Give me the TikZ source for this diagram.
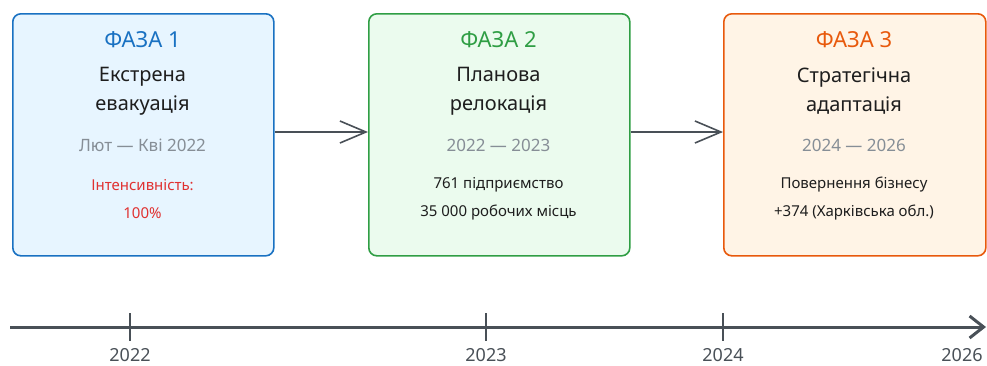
\documentclass[tikz,border=0pt]{standalone}
\usepackage{fontspec}
\setmainfont{Noto Sans}
\usetikzlibrary{arrows.meta}
\definecolor{cblue}{HTML}{1971C2}
\definecolor{cbluebg}{HTML}{E7F5FF}
\definecolor{cgreen}{HTML}{2F9E44}
\definecolor{cgreenbg}{HTML}{EBFBEE}
\definecolor{corange}{HTML}{E8590C}
\definecolor{corangebg}{HTML}{FFF4E6}
\definecolor{cred}{HTML}{E03131}
\definecolor{cgrey}{HTML}{868E96}
\definecolor{cdark}{HTML}{495057}
\definecolor{cink}{HTML}{1E1E1E}
\begin{document}
\begin{tikzpicture}[x=1pt,y=-1pt,
  phasebox/.style={draw, line width=1.6pt, rounded corners=8pt, minimum height=242pt, inner sep=0pt, anchor=north west},
  phasetitle/.style={font=\fontsize{22}{26}\selectfont},
  heading/.style={font=\fontsize{20}{29}\selectfont, text=cink, align=center},
  dates/.style={font=\fontsize{17}{20}\selectfont, text=cgrey},
  detail/.style={font=\fontsize{15}{28}\selectfont, align=center},
  conn/.style={draw=cdark, line width=1.6pt, -{Straight Barb[length=26pt,width=22pt,line width=1.6pt]}},
  timeline/.style={draw=cdark, line width=3pt, -{Straight Barb[length=14pt,width=22pt,line width=3pt]}},
  tickmark/.style={draw=cdark, line width=1.4pt},
  yearlabel/.style={font=\fontsize{18}{20}\selectfont, text=cdark}
]
\useasboundingbox (0,0) rectangle (987,365);

% boxes
\node[phasebox, draw=cblue, fill=cbluebg, minimum width=261pt] (b1) at (12,13) {};
\node[phasebox, draw=cgreen, fill=cgreenbg, minimum width=261pt] (b2) at (368,13) {};
\node[phasebox, draw=corange, fill=corangebg, minimum width=262pt] (b3) at (723,13) {};

% box 1 text
\node[phasetitle, text=cblue] (p1) at (142.5,40) {ФАЗА 1};
\node[heading] (h1) at (142.5,91.5) {Екстрена\\евакуація};
\node[dates] (d1) at (142.5,145) {Лют — Кві 2022};
\node[detail, text=cred] (x1) at (142.5,199) {Інтенсивність:\\100\%};

% box 2 text
\node[phasetitle, text=cgreen] (p2) at (498.5,40) {ФАЗА 2};
\node[heading] (h2) at (498.5,91.5) {Планова\\релокація};
\node[dates] (d2) at (498.5,145) {2022 — 2023};
\node[detail, text=cink] (x2) at (498.5,199) {761 підприємство\\35 000 робочих місць};

% box 3 text
\node[phasetitle, text=corange] (p3) at (854,40) {ФАЗА 3};
\node[heading] (h3) at (854,91.5) {Стратегічна\\адаптація};
\node[dates] (d3) at (854,145) {2024 — 2026};
\node[detail, text=cink] (x3) at (854,199) {Повернення бізнесу\\+374 (Харківська обл.)};

% connectors
\draw[conn] (b1.east |- 0,132) -- (b2.west |- 0,132);
\draw[conn] (b2.east |- 0,132) -- (b3.west |- 0,132);

% timeline
\coordinate (tlstart) at (10,327);
\coordinate (tlend) at (986,327);
\draw[timeline] (tlstart) -- (tlend);
\foreach \xx/\yr in {130/2022, 486/2023, 723/2024}{
  \draw[tickmark] (\xx,313) -- (\xx,341);
  \node[yearlabel] (y\yr) at (\xx,355) {\yr};
}
\node[yearlabel] (y2026) at (962,355) {2026};
\end{tikzpicture}
\end{document}
